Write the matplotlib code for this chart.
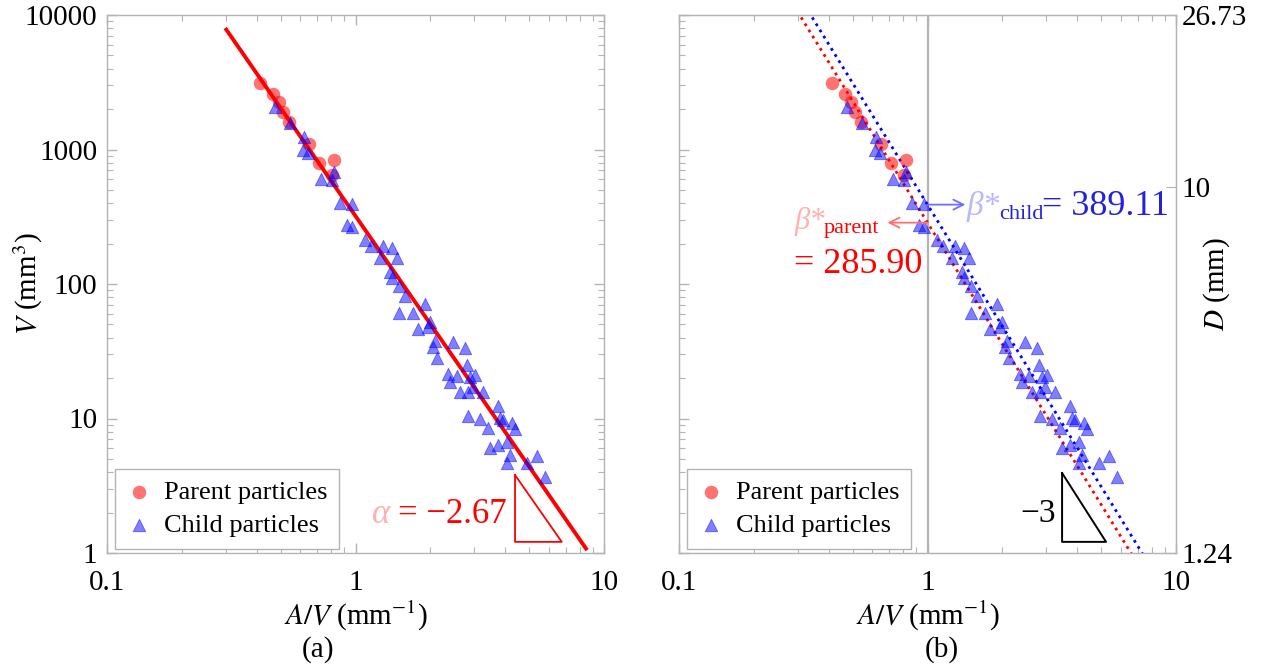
import matplotlib
matplotlib.use('Agg')
import matplotlib.pyplot as plt
from matplotlib.ticker import FixedLocator, LogLocator, NullFormatter, NullLocator
import numpy as np

plt.rcParams['font.family'] = ['Liberation Serif', 'DejaVu Serif']
plt.rcParams['mathtext.fontset'] = 'stix'

# values
parent_x = [0.413, 0.464, 0.494, 0.513, 0.542, 0.650, 0.713, 0.820, 0.806]
parent_v = [3140, 2570, 2270, 1910, 1590, 1090, 798, 836, 643]

child_x = [0.474, 0.545, 0.621, 0.615, 0.644, 0.820, 0.726, 0.804, 0.866, 0.968,
           0.924, 0.968, 1.092, 1.154, 1.291, 1.403, 1.469, 1.255, 1.376, 1.403,
           1.496, 1.582, 1.904, 1.496, 1.703, 1.994, 1.784, 1.958, 2.089, 2.469,
           2.051, 2.758, 2.128, 2.810, 2.357, 2.562, 3.026, 2.889, 2.401, 2.634,
           2.837, 2.971, 3.260, 3.744, 2.837, 3.170, 3.414, 3.814, 3.922, 4.264,
           4.385, 3.476, 3.744, 4.184, 4.070, 4.898, 5.376, 5.789, 4.070]
child_v = [2070, 1574, 1239, 991, 942, 680, 604, 593, 400, 393,
           275, 265, 212, 192, 192, 185, 156, 156, 123, 111,
           96.7, 81.4, 71.0, 60.9, 60.9, 52.2, 46.3, 47.9, 37.7, 37.0,
           34.0, 33.4, 28.2, 25.0, 21.4, 20.7, 21.1, 20.4, 18.7, 15.7,
           15.7, 17.2, 15.7, 12.4, 10.4, 9.91, 8.50, 10.1, 9.75, 9.26,
           8.36, 6.04, 6.35, 5.36, 4.67, 4.67, 5.26, 3.67, 6.69]

# power-law fit in (a), slope alpha
fit_x = [0.299, 8.55]
fit_v = [8000, 1.05]
alpha_label = '= \u22122.67'

# slope triangles
tri_a_x = [4.385, 4.385, 6.76, 4.385]
tri_a_v = [3.80, 1.21, 1.21, 3.80]
tri_b_x = [3.48, 3.48, 5.23, 3.48]
tri_b_v = [3.93, 1.21, 1.21, 3.93]

# beta* lines in (b): V = beta * (A/V)^-3
beta_parent = 285.90
beta_child = 389.11
beta_x = np.array([0.2, 10.0])

x_ticks = [0.1, 1, 10]
x_ticklabels = ['0.1', '1', '10']
v_ticks = [1, 10, 100, 1000, 10000]
v_ticklabels = ['1', '10', '100', '1000', '10000']
d_ticks = [1.24, 10, 26.73]
d_ticklabels = ['1.24', '10', '26.73']

FS = 21
GREY = '#b4b4b4'
W, H = 1262, 669


def px(x, y):
    return x / W, 1 - y / H


def style_axes(ax, left_labels=True):
    ax.set_xscale('log')
    ax.set_yscale('log')
    ax.set_xlim(0.1, 10)
    ax.set_ylim(1, 10000)
    for s in ax.spines.values():
        s.set_color(GREY)
        s.set_linewidth(1.0)
    ax.xaxis.set_major_locator(FixedLocator(x_ticks))
    ax.set_xticklabels(x_ticklabels)
    ax.xaxis.set_minor_locator(LogLocator(base=10, subs=np.arange(2, 10)))
    ax.xaxis.set_minor_formatter(NullFormatter())
    ax.yaxis.set_major_locator(FixedLocator(v_ticks))
    ax.yaxis.set_minor_locator(LogLocator(base=10, subs=np.arange(2, 10)))
    ax.yaxis.set_minor_formatter(NullFormatter())
    if left_labels:
        ax.set_yticklabels(v_ticklabels)
    else:
        ax.set_yticklabels([])
    ax.tick_params(which='both', direction='in', color=GREY, labelcolor='black',
                   top=True, right=left_labels, labelsize=FS)
    ax.tick_params(which='major', length=7, width=1)
    ax.tick_params(which='minor', length=4, width=0.8)
    ax.tick_params(axis='x', pad=12)
    ax.tick_params(axis='y', pad=7)
    ax.set_xlabel(r'$A/V$ (mm$^{-1}$)', fontsize=FS, labelpad=2)


def draw_points(ax):
    ax.scatter(parent_x, parent_v, s=95, marker='o', color='red', alpha=0.55,
               linewidths=0, label='Parent particles', zorder=3)
    ax.scatter(child_x, child_v, s=80, marker='^', color='blue', alpha=0.5,
               linewidths=0.6, edgecolors='blue', label='Child particles', zorder=3)
    ax.legend(loc='lower left', bbox_to_anchor=(8 / 497, 4 / 538), borderaxespad=0,
              fontsize=19, frameon=True, fancybox=False, edgecolor=GREY,
              framealpha=1, handletextpad=0.5, labelspacing=0.35,
              borderpad=0.45, handlelength=0.9)


fig = plt.figure(figsize=(W / 100, H / 100), dpi=100)
ax_a = fig.add_axes([107 / W, 1 - 553 / H, 497 / W, 538 / H])
ax_b = fig.add_axes([679 / W, 1 - 553 / H, 497 / W, 538 / H])

# ---- (a)
style_axes(ax_a)
ax_a.plot(fit_x, fit_v, color='red', lw=2.8, zorder=2, solid_capstyle='butt')
ax_a.plot(tri_a_x, tri_a_v, color='red', lw=1.3, zorder=2)
draw_points(ax_a)
ax_a.set_ylabel(r'$V$ (mm$^3$)', fontsize=FS)
ax_a.yaxis.set_label_coords((45 - 107) / 497, 0.5)

t_eq = fig.text(*px(507, 523), alpha_label, ha='right', va='baseline',
                fontsize=25, color='red')
ax_a.annotate('\u03b1', xy=(0, 0), xycoords=t_eq, xytext=(-6, 0),
              textcoords='offset points', ha='right', va='bottom',
              fontsize=25, color='#ffb0b0', fontstyle='italic')

# ---- (b)
style_axes(ax_b, left_labels=False)
ax_b.axvline(1, color=GREY, lw=1.6, zorder=1)
ax_b.plot(beta_x, beta_parent * beta_x ** -3.0, color='red', lw=2,
          linestyle=(0, (1, 1.6)), zorder=2)
ax_b.plot(beta_x, beta_child * beta_x ** -3.0, color='blue', lw=2,
          linestyle=(0, (1, 1.6)), zorder=2)
ax_b.plot(tri_b_x, tri_b_v, color='black', lw=1.4, zorder=2)
draw_points(ax_b)

ax_b.annotate('', xy=(1.42, beta_child), xytext=(1, beta_child),
              arrowprops=dict(arrowstyle='->', color='#6f6fff', lw=1.3,
                              shrinkA=0, shrinkB=0, mutation_scale=18))
ax_b.annotate('', xy=(0.69, beta_parent), xytext=(1, beta_parent),
              arrowprops=dict(arrowstyle='->', color='#ff6f6f', lw=1.3,
                              shrinkA=0, shrinkB=0, mutation_scale=18))

fig.text(*px(967, 215), '\u03b2*', fontsize=24, fontstyle='italic',
         color='#b8b8ff', va='baseline')
fig.text(*px(999, 219), 'child', fontsize=16, color='#2222dd', va='baseline')
fig.text(*px(1042, 215), '= %.2f' % beta_child, fontsize=26, color='#2222dd',
         va='baseline')

fig.text(*px(794, 229), '\u03b2*', fontsize=22, fontstyle='italic',
         color='#ffb0b0', va='baseline')
fig.text(*px(824, 233), 'parent', fontsize=16, color='red', va='baseline')
fig.text(*px(794, 273), '= %.2f' % beta_parent, fontsize=26, color='red',
         va='baseline')

fig.text(*px(1056, 522), '\u22123', fontsize=24, color='black', ha='right',
         va='baseline')

# right axis: equivalent diameter
ax_d = ax_b.twinx()
ax_d.set_yscale('log')
ax_d.set_ylim(min(d_ticks), max(d_ticks))
ax_d.yaxis.set_major_locator(FixedLocator(d_ticks))
ax_d.set_yticklabels(d_ticklabels)
ax_d.yaxis.set_minor_locator(NullLocator())
for s in ax_d.spines.values():
    s.set_color(GREY)
ax_d.tick_params(which='both', direction='in', color=GREY, labelcolor='black',
                 labelsize=FS, length=7, pad=4)
ax_d.set_ylabel(r'$D$ (mm)', fontsize=FS)
ax_d.yaxis.set_label_coords((1201 - 679) / 497, 0.5)

fig.text(*px(318, 650), '(a)', fontsize=FS, ha='center', va='center')
fig.text(*px(942, 650), '(b)', fontsize=FS, ha='center', va='center')

fig.savefig('out.png', dpi=100)
